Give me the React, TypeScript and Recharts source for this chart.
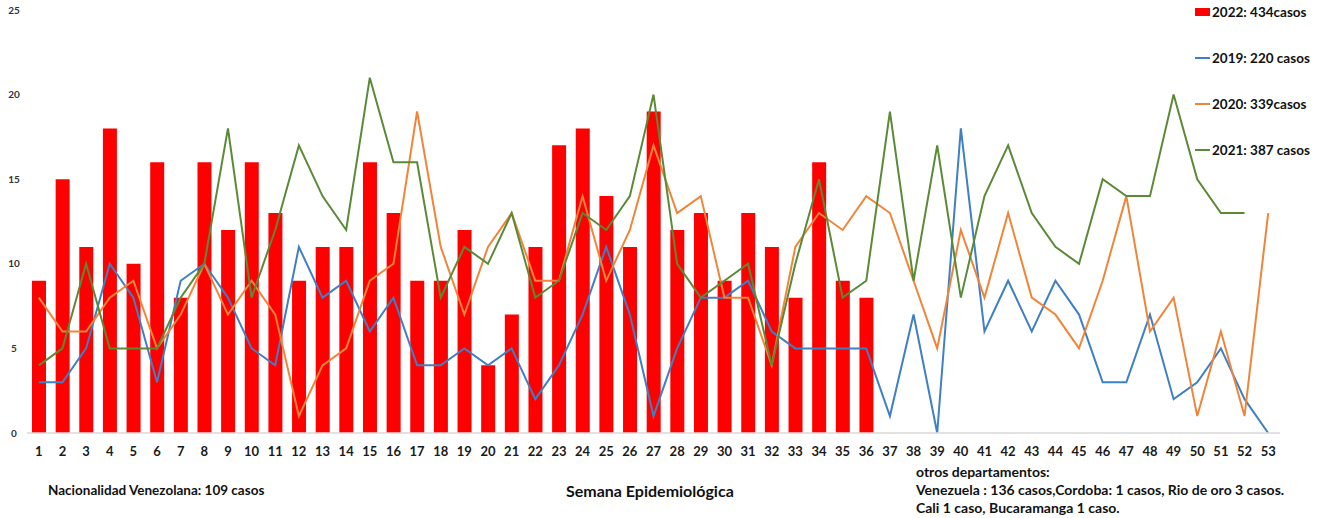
import { Bar, ComposedChart, Line, XAxis, YAxis } from "recharts"

const weeks = [
    "1", "2", "3", "4", "5", "6", "7", "8", "9", "10", "11", "12", "13", "14", "15", "16", "17", "18",
    "19", "20", "21", "22", "23", "24", "25", "26", "27", "28", "29", "30", "31", "32", "33", "34", "35", "36",
    "37", "38", "39", "40", "41", "42", "43", "44", "45", "46", "47", "48", "49", "50", "51", "52", "53",
]

const cases2022 = [
    9, 15, 11, 18, 10, 16, 8, 16, 12, 16, 13, 9, 11, 11, 16, 13, 9, 9,
    12, 4, 7, 11, 17, 18, 14, 11, 19, 12, 13, 9, 13, 11, 8, 16, 9, 8,
]

const cases2019 = [
    3, 3, 5, 10, 8, 3, 9, 10, 8, 5, 4, 11, 8, 9, 6, 8, 4, 4,
    5, 4, 5, 2, 4, 7, 11, 7, 1, 5, 8, 8, 9, 6, 5, 5, 5, 5,
    1, 7, 0, 18, 6, 9, 6, 9, 7, 3, 3, 7, 2, 3, 5, 2, 0,
]

const cases2020 = [
    8, 6, 6, 8, 9, 5, 7, 10, 7, 9, 7, 1, 4, 5, 9, 10, 19, 11,
    7, 11, 13, 9, 9, 14, 9, 12, 17, 13, 14, 8, 8, 4, 11, 13, 12, 14,
    13, 9, 5, 12, 8, 13, 8, 7, 5, 9, 14, 6, 8, 1, 6, 1, 13,
]

const cases2021 = [
    4, 5, 10, 5, 5, 5, 8, 10, 18, 8, 12, 17, 14, 12, 21, 16, 16, 8,
    11, 10, 13, 8, 9, 13, 12, 14, 20, 10, 8, 9, 10, 4, 10, 15, 8, 9,
    19, 9, 17, 8, 14, 17, 13, 11, 10, 15, 14, 14, 20, 15, 13, 13,
]

const yTicks = [0, 5, 10, 15, 20, 25]

const series = [
    { key: "y2022", name: "2022: 434casos", color: "#ff0000", kind: "bar" },
    { key: "y2019", name: "2019: 220 casos", color: "#3f7fc4", kind: "line" },
    { key: "y2020", name: "2020: 339casos", color: "#f0853a", kind: "line" },
    { key: "y2021", name: "2021: 387 casos", color: "#5b8a37", kind: "line" },
]

const data = weeks.map((w, i) => ({
    week: w,
    y2022: cases2022[i] ?? null,
    y2019: cases2019[i] ?? null,
    y2020: cases2020[i] ?? null,
    y2021: cases2021[i] ?? null,
}))

const font = "Lato, 'Open Sans', sans-serif"

function YTick(props: any) {
    return (
        <text x={14} y={props.y} dy={3.5} textAnchor="middle" fontSize={10} fontWeight={700} fill="#333" fontFamily={font}>
            {props.payload.value}
        </text>
    )
}

export default function App() {
    return (
        <div style={{ position: "absolute", left: 0, top: 0, width: 1320, height: 518, background: "#fff", fontFamily: font }}>
            <ComposedChart width={1320} height={518} data={data} margin={{ top: 10, right: 40, bottom: 55, left: 0 }}>
                <XAxis
                    dataKey="week"
                    interval={0}
                    tickLine={false}
                    axisLine={{ stroke: "#d9d9d9", strokeWidth: 1.5 }}
                    tick={{ fill: "#1a1a1a", fontSize: 13, fontWeight: 700, fontFamily: font }}
                    tickMargin={8}
                    height={30}
                />
                <YAxis
                    width={27}
                    domain={[0, 25]}
                    ticks={yTicks}
                    axisLine={false}
                    tickLine={false}
                    tick={<YTick />}
                />
                <Bar dataKey="y2022" fill="#ff0000" barSize={14} isAnimationActive={false} />
                {series.filter(s => s.kind === "line").map(s => (
                    <Line
                        key={s.key}
                        type="linear"
                        dataKey={s.key}
                        stroke={s.color}
                        strokeWidth={2}
                        dot={false}
                        isAnimationActive={false}
                    />
                ))}
            </ComposedChart>

            {/* legend: items centred at y 12, 57, 103, 149 */}
            <div style={{ position: "absolute", left: 1195, top: -11 }}>
                {series.map(s => (
                    <div key={s.key} style={{ display: "flex", alignItems: "center", height: 46, fontSize: 13.5, fontWeight: 700, color: "#111" }}>
                        <div
                            style={{
                                width: 15,
                                height: s.kind === "bar" ? 8 : 2,
                                background: s.color,
                                marginRight: 2,
                            }}
                        ></div>
                        <span>{s.name}</span>
                    </div>
                ))}
            </div>

            <div style={{ position: "absolute", left: 48, top: 482, fontSize: 13.5, fontWeight: 700, color: "#111" }}>
                Nacionalidad Venezolana: 109 casos
            </div>
            <div style={{ position: "absolute", left: 566, top: 481, fontSize: 16, fontWeight: 700, color: "#111" }}>
                Semana Epidemiológica
            </div>
            <div style={{ position: "absolute", left: 916, top: 463, fontSize: 14, fontWeight: 700, color: "#111", lineHeight: "18px" }}>
                <div>otros departamentos:</div>
                <div>Venezuela : 136 casos,Cordoba: 1 casos, Rio de oro 3 casos.</div>
                <div>Cali 1 caso, Bucaramanga 1 caso.</div>
            </div>
        </div>
    )
}
